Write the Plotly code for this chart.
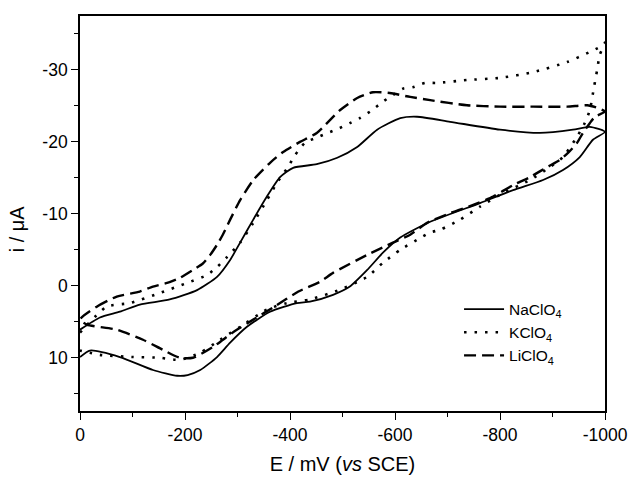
import plotly.graph_objects as go

# NaClO4 (solid): forward sweep 0 -> -1000 mV, then back to 0
na_E = [0, -38, -76, -114, -171, -223, -261, -286, -305, -330, -356, -381, -406, -451, -490, -528,
        -566, -610, -642, -705, -800, -876, -939, -971, -1000,
        -977, -952, -920, -882, -825, -762, -667, -610, -577, -547, -514, -482, -438, -413, -362,
        -318, -286, -261, -229, -205, -185, -139, -76, -19, 0]
na_i = [6.1, 4.4, 3.6, 2.6, 1.9, 0.6, -1.25, -3.6, -6.0, -9.2, -12.4, -15.1, -16.4, -16.9, -17.8, -19.3,
        -21.7, -23.3, -23.5, -22.8, -21.7, -21.25, -21.7, -22.1, -21.4,
        -20.3, -17.9, -16.1, -14.7, -13.3, -11.5, -8.9, -6.7, -4.6, -2.2, 0.1, 1.25, 2.2, 2.4, 3.6,
        5.7, 7.9, 9.9, 11.7, 12.4, 12.5, 11.7, 9.9, 9.0, 9.9]

# KClO4 (dotted)
k_E = [0, -51, -95, -152, -204, -242, -261, -280, -305, -330, -356, -375, -396, -410, -429, -451, -472,
       -491, -514, -533, -556, -577, -596, -615, -634, -657, -680, -737, -800, -863, -928, -971, -990, -1000,
       -990, -985, -979, -971, -960, -943, -920, -895, -857, -806, -762, -724, -686, -667, -642, -610,
       -577, -547, -495, -438, -394, -356, -305, -267, -229, -190, -152, -101, -38, 0]
k_i = [6.5, 2.9, 2.4, 1.0, -0.4, -1.5, -2.6, -4.0, -6.0, -8.75, -11.9, -14.3, -16.5, -18.2, -19.9, -20.6, -21.25,
       -21.8, -22.6, -23.3, -24.4, -25.6, -26.5, -27.4, -27.6, -28.2, -28.2, -28.6, -28.9, -29.7, -31.1, -32.5, -33.2, -33.8,
       -32.1, -30.0, -27.6, -24.4, -22.4, -20.3, -17.9, -16.5, -14.7, -12.9, -11.0, -9.2, -7.8, -7.4, -6.4, -5.0,
       -3.2, -1.25, 0.55, 1.9, 2.4, 3.3, 5.7, 7.5, 9.3, 10.3, 10.0, 9.9, 9.6, 9.0]

# LiClO4 (dashed)
li_E = [0, -32, -70, -114, -139, -166, -190, -215, -234, -248, -261, -272, -286, -305, -330, -362, -387, -419,
        -451, -495, -528, -558, -590, -629, -667, -737, -800, -863, -928, -966, -987, -1000,
        -981, -971, -958, -947, -930, -914, -890, -857, -825, -787, -749, -705, -661, -629, -596, -547,
        -482, -457, -416, -370, -330, -291, -253, -215, -190, -158, -120, -70, -13, 0]
li_i = [4.7, 2.9, 1.5, 0.8, 0.1, -0.4, -1.1, -2.2, -3.1, -4.3, -5.7, -7.1, -9.2, -11.9, -14.7, -17.1, -18.6, -20.0,
        -21.25, -24.4, -26.1, -26.9, -26.8, -26.25, -25.8, -25.1, -24.9, -24.9, -24.9, -25.1, -24.7, -24.2,
        -23.5, -22.6, -21.25, -19.9, -18.5, -17.5, -16.5, -15.1, -14.0, -12.4, -11.25, -10.1, -8.75, -7.1, -6.0, -4.3,
        -1.8, -0.55, 0.8, 2.9, 4.7, 6.5, 8.5, 10.0, 10.0, 8.9, 7.5, 6.1, 5.4, 4.7]

series_names = ["NaClO<sub>4</sub>", "KClO<sub>4</sub>", "LiClO<sub>4</sub>"]

x_ticks = [0, -200, -400, -600, -800, -1000]
x_ticktext = ["0", "-200", "-400", "-600", "-800", "-1000"]
y_ticks = [-30, -20, -10, 0, 10]
y_ticktext = ["-30", "-20", "-10", "0", "10"]
x_minor = [-100, -300, -500, -700, -900]
y_minor = [-35, -25, -15, -5, 5, 15]

FONT = "Liberation Sans, Arial, sans-serif"

fig = go.Figure()
fig.add_trace(go.Scatter(x=na_E, y=na_i, mode="lines", name=series_names[0],
                         line=dict(color="black", width=1.8, shape="spline", smoothing=0.6)))
fig.add_trace(go.Scatter(x=k_E, y=k_i, mode="lines", name=series_names[1],
                         line=dict(color="black", width=2.6, dash="2.5px,8px", shape="spline", smoothing=0.6)))
fig.add_trace(go.Scatter(x=li_E, y=li_i, mode="lines", name=series_names[2],
                         line=dict(color="black", width=2.4, dash="12px,6px", shape="spline", smoothing=0.6)))

axis_common = dict(showline=True, linecolor="black", linewidth=1.7, mirror=True,
                   ticks="outside", tickcolor="black", ticklen=7, tickwidth=1.4,
                   showgrid=False, zeroline=False, automargin=False,
                   tickfont=dict(family=FONT, size=17.5, color="black"))

fig.update_xaxes(range=[0, -1000], tickmode="array", tickvals=x_ticks, ticktext=x_ticktext,
                 minor=dict(tickmode="array", tickvals=x_minor, ticks="outside", ticklen=4,
                            tickcolor="black", tickwidth=1.2),
                 title=dict(text="E / mV (<i>vs</i> SCE)", font=dict(family=FONT, size=20, color="black"),
                            standoff=13),
                 **axis_common)
fig.update_yaxes(range=[17.4, -37.5], tickmode="array", tickvals=y_ticks, ticktext=y_ticktext,
                 minor=dict(tickmode="array", tickvals=y_minor, ticks="outside", ticklen=4,
                            tickcolor="black", tickwidth=1.2),
                 **axis_common)

fig.add_annotation(text="i / μA", xref="paper", yref="paper", x=-0.12, y=0.46,
                   xanchor="center", yanchor="middle",
                   textangle=-90, showarrow=False,
                   font=dict(family=FONT, size=20, color="black"))

fig.update_layout(
    width=631, height=479,
    margin=dict(l=80, r=26, t=16, b=68),
    plot_bgcolor="white", paper_bgcolor="white",
    showlegend=True,
    legend=dict(x=0.722, y=0.30, xanchor="left", yanchor="top",
                bgcolor="rgba(0,0,0,0)", borderwidth=0,
                font=dict(family=FONT, size=15.5, color="black"),
                tracegroupgap=0, itemwidth=40),
)

fig.write_html("out.html")
